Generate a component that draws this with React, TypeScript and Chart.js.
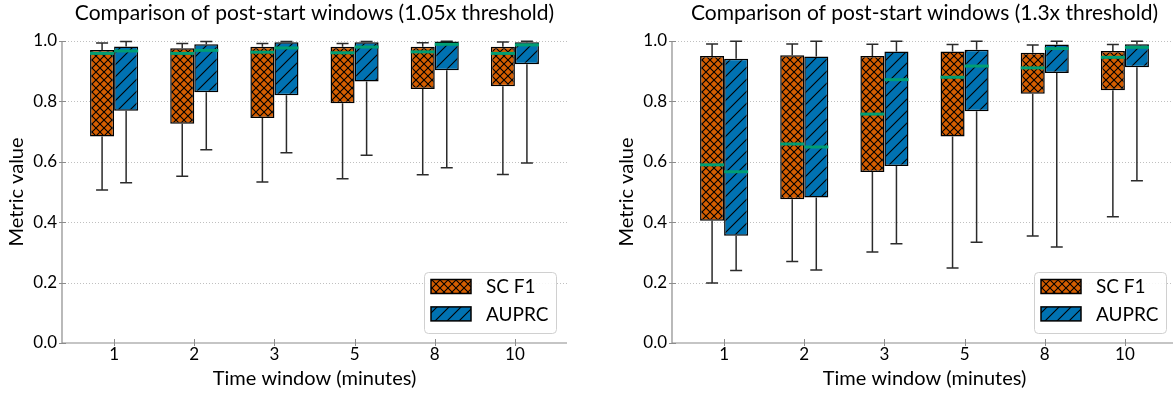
import React, { useEffect, useRef } from 'react';
import { Chart, registerables } from 'chart.js';

Chart.register(...registerables);

// ---------- data ----------
const windows = ['1', '2', '3', '5', '8', '10'];
const yTickValues = [0, 0.2, 0.4, 0.6, 0.8, 1.0];
const seriesLabels = ['SC F1', 'AUPRC'];

// 1.05x threshold
const scLo105 = [0.507, 0.552, 0.533, 0.544, 0.557, 0.558];
const scQ1105 = [0.684, 0.726, 0.745, 0.794, 0.841, 0.85];
const scMed105 = [0.959, 0.959, 0.963, 0.961, 0.964, 0.959];
const scQ3105 = [0.97, 0.976, 0.981, 0.981, 0.981, 0.981];
const scHi105 = [0.993, 0.992, 0.992, 0.992, 0.994, 0.997];

const auLo105 = [0.531, 0.64, 0.63, 0.622, 0.58, 0.596];
const auQ1105 = [0.769, 0.83, 0.82, 0.866, 0.903, 0.923];
const auMed105 = [0.967, 0.969, 0.977, 0.98, 0.989, 0.987];
const auQ3105 = [0.982, 0.989, 0.996, 0.996, 0.998, 0.996];
const auHi105 = [0.998, 0.998, 0.998, 0.998, 0.999, 0.999];

// 1.3x threshold
const scLo13 = [0.199, 0.27, 0.301, 0.248, 0.354, 0.418];
const scQ113 = [0.405, 0.476, 0.566, 0.684, 0.825, 0.837];
const scMed13 = [0.59, 0.659, 0.758, 0.88, 0.911, 0.946];
const scQ313 = [0.95, 0.953, 0.95, 0.965, 0.961, 0.967];
const scHi13 = [0.99, 0.99, 0.989, 0.988, 0.987, 0.988];

const auLo13 = [0.24, 0.242, 0.329, 0.334, 0.318, 0.537];
const auQ113 = [0.355, 0.482, 0.586, 0.767, 0.894, 0.913];
const auMed13 = [0.567, 0.649, 0.872, 0.917, 0.975, 0.979];
const auQ313 = [0.941, 0.949, 0.965, 0.971, 0.988, 0.989];
const auHi13 = [0.999, 0.999, 0.999, 0.999, 0.999, 0.999];

// ---------- styles ----------
const ORANGE = '#D55E00';
const BLUE = '#0072B2';
const GREEN = '#009E73';
const FONT = 'Lato, "DejaVu Sans", sans-serif';

type Stats = { lo: number[]; q1: number[]; med: number[]; q3: number[]; hi: number[] };

function crossPattern(ctx: CanvasRenderingContext2D): CanvasPattern {
  const P = 8;
  const c = document.createElement('canvas');
  c.width = P;
  c.height = P;
  const g = c.getContext('2d')!;
  g.fillStyle = ORANGE;
  g.fillRect(0, 0, P, P);
  g.strokeStyle = '#000';
  g.lineWidth = 1.1;
  g.beginPath();
  g.moveTo(-1, -1);
  g.lineTo(P + 1, P + 1);
  g.moveTo(-1, P + 1);
  g.lineTo(P + 1, -1);
  g.stroke();
  return ctx.createPattern(c, 'repeat')!;
}

function diagPattern(ctx: CanvasRenderingContext2D): CanvasPattern {
  const P = 12;
  const c = document.createElement('canvas');
  c.width = P;
  c.height = P;
  const g = c.getContext('2d')!;
  g.fillStyle = BLUE;
  g.fillRect(0, 0, P, P);
  g.strokeStyle = '#000';
  g.lineWidth = 1.1;
  g.beginPath();
  g.moveTo(-1, P + 1);
  g.lineTo(P + 1, -1);
  g.moveTo(-2, 2);
  g.lineTo(2, -2);
  g.moveTo(P - 2, P + 2);
  g.lineTo(P + 2, P - 2);
  g.stroke();
  return ctx.createPattern(c, 'repeat')!;
}

function Panel({ title, sc, au, left }: { title: string; sc: Stats; au: Stats; left: number }) {
  const ref = useRef<HTMLCanvasElement>(null);

  useEffect(() => {
    const canvas = ref.current!;
    const ctx = canvas.getContext('2d')!;
    const cross = crossPattern(ctx);
    const diag = diagPattern(ctx);
    const stats = [sc, au];
    const patterns = [cross, diag];

    const extras = {
      id: 'boxExtras',
      beforeDatasetsDraw(chart: any) {
        const { ctx: c, chartArea: a, scales } = chart;
        const y = scales.y;
        c.save();
        c.strokeStyle = '#b0b0b0';
        c.lineWidth = 0.8;
        c.setLineDash([1, 2]);
        yTickValues.forEach((t) => {
          if (t === 0) return;
          const py = Math.round(y.getPixelForValue(t)) + 0.5;
          c.beginPath();
          c.moveTo(a.left, py);
          c.lineTo(a.right, py);
          c.stroke();
        });
        c.setLineDash([]);
        // whiskers
        c.strokeStyle = '#2b2b2b';
        c.lineWidth = 1.5;
        stats.forEach((s, di) => {
          const meta = chart.getDatasetMeta(di);
          meta.data.forEach((bar: any, i: number) => {
            const { x } = bar.getProps(['x'], true);
            const pHi = y.getPixelForValue(s.hi[i]);
            const pQ3 = y.getPixelForValue(s.q3[i]);
            const pQ1 = y.getPixelForValue(s.q1[i]);
            const pLo = y.getPixelForValue(s.lo[i]);
            c.beginPath();
            c.moveTo(x, pQ3);
            c.lineTo(x, pHi);
            c.moveTo(x - 6, pHi);
            c.lineTo(x + 6, pHi);
            c.moveTo(x, pQ1);
            c.lineTo(x, pLo);
            c.moveTo(x - 6, pLo);
            c.lineTo(x + 6, pLo);
            c.stroke();
          });
        });
        c.restore();
      },
      afterDatasetsDraw(chart: any) {
        const { ctx: c, chartArea: a, scales } = chart;
        const y = scales.y;
        const xs = scales.x;
        c.save();
        // medians
        c.strokeStyle = GREEN;
        c.lineWidth = 3;
        stats.forEach((s, di) => {
          const meta = chart.getDatasetMeta(di);
          meta.data.forEach((bar: any, i: number) => {
            const { x, width } = bar.getProps(['x', 'width'], true);
            const pm = y.getPixelForValue(s.med[i]);
            c.beginPath();
            c.moveTo(x - width / 2, pm);
            c.lineTo(x + width / 2, pm);
            c.stroke();
          });
        });
        // spines
        c.strokeStyle = '#8c8c8c';
        c.lineWidth = 1.2;
        c.beginPath();
        c.moveTo(a.left, a.top);
        c.lineTo(a.left, a.bottom);
        c.lineTo(a.right, a.bottom);
        c.stroke();
        // ticks
        c.lineWidth = 1;
        c.beginPath();
        windows.forEach((_, i) => {
          const px = Math.round(xs.getPixelForValue(i)) + 0.5;
          c.moveTo(px, a.bottom - 4);
          c.lineTo(px, a.bottom + 3);
        });
        yTickValues.forEach((t) => {
          const py = Math.round(y.getPixelForValue(t)) + 0.5;
          c.moveTo(a.left - 3, py);
          c.lineTo(a.left + 4, py);
        });
        c.stroke();
        // title
        c.fillStyle = '#000';
        c.font = `21px ${FONT}`;
        c.textAlign = 'center';
        c.textBaseline = 'alphabetic';
        c.fillText(title, (a.left + a.right) / 2, 20);
        // legend
        const W = 132;
        const H = 61;
        const L = a.right - 11 - W;
        const T = a.bottom - 10 - H;
        c.beginPath();
        c.roundRect(L + 0.5, T + 0.5, W, H, 4);
        c.fillStyle = 'rgba(255,255,255,0.85)';
        c.fill();
        c.strokeStyle = '#d0d0d0';
        c.lineWidth = 1;
        c.stroke();
        seriesLabels.forEach((lab, r) => {
          const py = T + 7.5 + r * 27.4;
          c.fillStyle = patterns[r];
          c.fillRect(L + 7, py, 40, 14);
          c.strokeStyle = '#000';
          c.lineWidth = 1.5;
          c.strokeRect(L + 7, py, 40, 14);
          c.fillStyle = '#000';
          c.font = `19px ${FONT}`;
          c.textAlign = 'left';
          c.textBaseline = 'middle';
          c.fillText(lab, L + 62, py + 7.5);
        });
        c.restore();
      },
    };

    const mk = (s: Stats) => windows.map((_, i) => ({ x: i, y: [s.q1[i], s.q3[i]] }));

    const chart = new Chart(ctx, {
      type: 'bar',
      data: {
        datasets: [
          {
            label: seriesLabels[0],
            data: mk(sc) as any,
            backgroundColor: cross,
            borderColor: '#000',
            borderWidth: 1.5,
            borderSkipped: false,
            categoryPercentage: 0.6,
            barPercentage: 1.0,
          },
          {
            label: seriesLabels[1],
            data: mk(au) as any,
            backgroundColor: diag,
            borderColor: '#000',
            borderWidth: 1.5,
            borderSkipped: false,
            categoryPercentage: 0.6,
            barPercentage: 1.0,
          },
        ],
      },
      options: {
        animation: false,
        responsive: false,
        events: [],
        layout: { padding: { top: 41, right: 43, left: 0, bottom: 0 } },
        plugins: { legend: { display: false }, tooltip: { enabled: false }, title: { display: false } },
        scales: {
          x: {
            type: 'linear',
            min: -0.65,
            max: 5.65,
            offset: false,
            grid: { display: false, offset: false, drawTicks: false },
            border: { display: false },
            afterBuildTicks: (scale: any) => {
              scale.ticks = windows.map((_, i) => ({ value: i }));
            },
            afterFit: (scale: any) => {
              scale.height = 50;
            },
            ticks: {
              autoSkip: false,
              maxRotation: 0,
              padding: 1,
              color: '#000',
              font: { family: FONT, size: 17 },
              callback: (v: any) => windows[Math.round(Number(v))] ?? '',
            },
            title: {
              display: true,
              text: 'Time window (minutes)',
              color: '#000',
              font: { family: FONT, size: 20 },
              padding: { top: 0, bottom: 2 },
            },
          },
          y: {
            min: 0,
            max: 1,
            grid: { display: false, drawTicks: false },
            border: { display: false },
            afterFit: (scale: any) => {
              scale.width = 62;
            },
            ticks: {
              stepSize: 0.2,
              padding: 5,
              color: '#000',
              font: { family: FONT, size: 17 },
              callback: (v: any) => Number(v).toFixed(1),
            },
            title: {
              display: true,
              text: 'Metric value',
              color: '#000',
              font: { family: FONT, size: 20 },
              padding: { top: 5, bottom: 0 },
            },
          },
        },
      },
      plugins: [extras],
    } as any);

    return () => chart.destroy();
  }, []);

  return (
    <canvas
      ref={ref}
      width={610}
      height={393}
      style={{ position: 'absolute', left, top: 0, width: 610, height: 393 }}
    />
  );
}

export default function App() {
  const s105a: Stats = { lo: scLo105, q1: scQ1105, med: scMed105, q3: scQ3105, hi: scHi105 };
  const s105b: Stats = { lo: auLo105, q1: auQ1105, med: auMed105, q3: auQ3105, hi: auHi105 };
  const s13a: Stats = { lo: scLo13, q1: scQ113, med: scMed13, q3: scQ313, hi: scHi13 };
  const s13b: Stats = { lo: auLo13, q1: auQ113, med: auMed13, q3: auQ313, hi: auHi13 };
  return (
    <div
      style={{
        position: 'fixed',
        left: 0,
        top: 0,
        width: 1173,
        height: 393,
        overflow: 'hidden',
        background: '#fff',
      }}
    >
      <Panel title="Comparison of post-start windows (1.05x threshold)" sc={s105a} au={s105b} left={0} />
      <Panel title="Comparison of post-start windows (1.3x threshold)" sc={s13a} au={s13b} left={610} />
    </div>
  );
}
